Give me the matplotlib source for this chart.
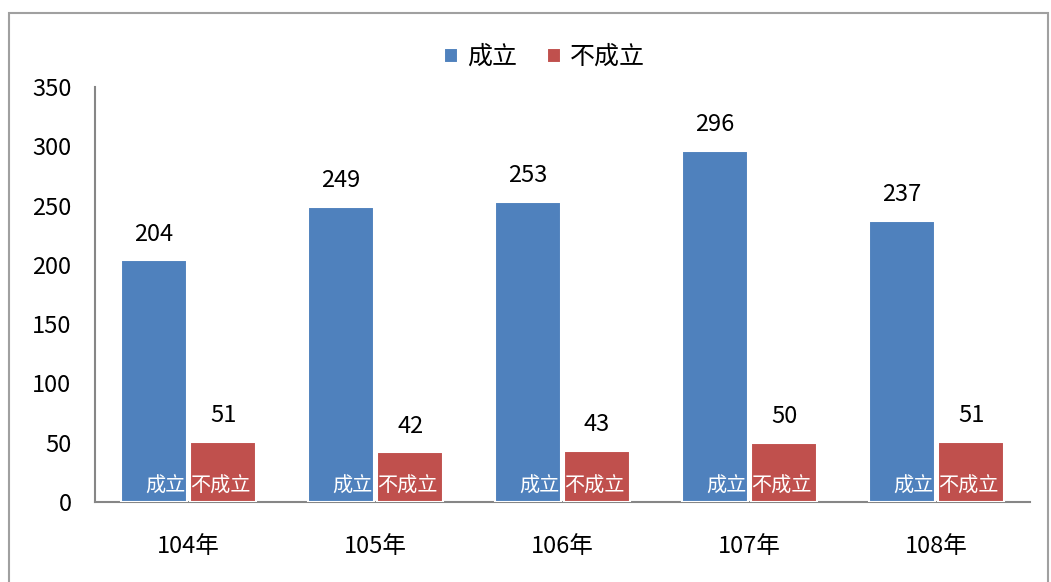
import matplotlib
matplotlib.use("Agg")
import matplotlib.pyplot as plt
import numpy as np
from matplotlib.patches import Rectangle

plt.rcParams['font.family'] = ['Noto Sans CJK TC', 'DejaVu Sans']

categories = ['104年', '105年', '106年', '107年', '108年']
established = [204, 249, 253, 296, 237]
not_established = [51, 42, 43, 50, 51]
series_names = ['成立', '不成立']
yticks = [0, 50, 100, 150, 200, 250, 300, 350]

blue = '#4F81BD'
red = '#C0504D'
axis_gray = '#868686'

fig = plt.figure(figsize=(10.51, 5.82), dpi=100)
ax = fig.add_axes([0.0904, 0.1375, 0.8896, 0.713])

# outer border
fig.patches.append(Rectangle((0.0085, -0.05), 0.989, 1.028, transform=fig.transFigure,
                             fill=False, edgecolor='#A0A0A0', linewidth=1.5, zorder=0))

x = np.arange(len(categories))
w = 0.355
off = 0.185
b1 = ax.bar(x - off, established, width=w, color=blue, edgecolor='white', linewidth=1.5, zorder=3)
b2 = ax.bar(x + off, not_established, width=w, color=red, edgecolor='white', linewidth=1.5, zorder=3)

for xi, v in zip(x, established):
    ax.text(xi - off, v + 22, str(v), ha='center', va='center', fontsize=17, color='black')
    ax.text(xi - off + w / 2 - 0.008, 13, series_names[0], ha='right', va='center', fontsize=14.5, color='white', zorder=4)
for xi, v in zip(x, not_established):
    ax.text(xi + off, v + 22, str(v), ha='center', va='center', fontsize=17, color='black')
    ax.text(xi + off - w / 2 + 0.003, 13, series_names[1], ha='left', va='center', fontsize=14.5, color='white', zorder=4)

ax.set_xlim(-0.5, len(categories) - 0.5)
ax.set_ylim(0, 350)
ax.set_yticks(yticks)
ax.set_yticklabels([str(t) for t in yticks], fontsize=17)
ax.set_xticks(x)
ax.set_xticklabels(categories, fontsize=17)
ax.tick_params(axis='both', length=0)
ax.tick_params(axis='y', pad=17)
ax.tick_params(axis='x', pad=24)

for s in ['top', 'right']:
    ax.spines[s].set_visible(False)
for s in ['left', 'bottom']:
    ax.spines[s].set_color(axis_gray)
    ax.spines[s].set_linewidth(1.5)

leg = fig.legend([b1, b2], series_names, loc='center', bbox_to_anchor=(0.518, 0.902), ncol=2,
                 frameon=False, prop={'size': 18}, handlelength=0.55, handleheight=0.55,
                 columnspacing=1.2, handletextpad=0.35)

fig.savefig('out.png', dpi=100)
